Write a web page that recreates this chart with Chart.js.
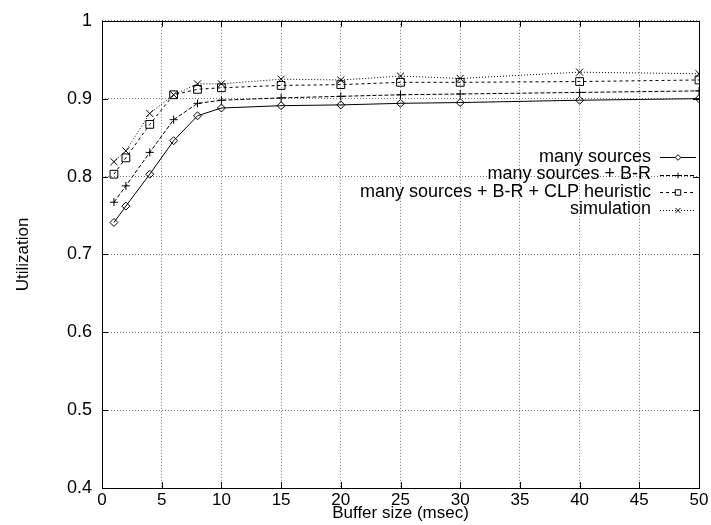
<!DOCTYPE html>
<html>
<head>
<meta charset="utf-8">
<script src="https://cdn.jsdelivr.net/npm/chart.js@4/dist/chart.umd.min.js"></script>
<style>
  body { margin: 0; background: #fff; }
  #wrap { width: 711px; height: 525px; }
</style>
</head>
<body>
<div id="wrap"><canvas id="myChart"></canvas></div>
<script>
// buffer size in msec
const bufferSizes = [1, 2, 4, 6, 8, 10, 15, 20, 25, 30, 40, 50];
const manySources = [0.741, 0.762, 0.803, 0.846, 0.878, 0.888, 0.891, 0.892, 0.894, 0.895, 0.898, 0.900];
const manySourcesBR = [0.767, 0.788, 0.831, 0.873, 0.894, 0.898, 0.901, 0.903, 0.905, 0.906, 0.908, 0.910];
const manySourcesBRCLP = [0.803, 0.824, 0.867, 0.905, 0.912, 0.914, 0.917, 0.918, 0.921, 0.921, 0.922, 0.924];
const simulation = [0.819, 0.833, 0.881, 0.905, 0.919, 0.919, 0.925, 0.924, 0.929, 0.926, 0.934, 0.932];
const seriesNames = ["many sources", "many sources + B-R", "many sources + B-R + CLP heuristic", "simulation"];
const xTicks = [0, 5, 10, 15, 20, 25, 30, 35, 40, 45, 50];
const yTicks = [0.4, 0.5, 0.6, 0.7, 0.8, 0.9, 1];

const FONT = "'Liberation Sans', Arial, Helvetica, sans-serif";

function pts(vals){
  return bufferSizes.map((b, i) => ({x: b, y: vals[i]}));
}

function ds(label, vals, dash, style, r){
  return {
    label: label,
    data: pts(vals),
    borderColor: "#000",
    borderWidth: 1,
    borderDash: dash,
    pointStyle: style,
    pointRadius: r,
    pointBorderColor: "#000",
    pointBorderWidth: 1,
    pointBackgroundColor: "rgba(0,0,0,0)",
    tension: 0,
    fill: false
  };
}

// gnuplot-ish box + inward tick marks
const boxPlugin = {
  id: "box",
  afterDraw(chart){
    const {ctx, chartArea: a, scales} = chart;
    ctx.save();
    ctx.strokeStyle = "#000";
    ctx.lineWidth = 1;
    ctx.setLineDash([]);
    ctx.beginPath();
    xTicks.forEach(t => {
      const px = Math.round(scales.x.getPixelForValue(t)) + 0.5;
      ctx.moveTo(px, a.bottom); ctx.lineTo(px, a.bottom - 6);
      ctx.moveTo(px, a.top); ctx.lineTo(px, a.top + 6);
    });
    yTicks.forEach(t => {
      const py = Math.round(scales.y.getPixelForValue(t)) + 0.5;
      ctx.moveTo(a.left, py); ctx.lineTo(a.left + 6, py);
      ctx.moveTo(a.right, py); ctx.lineTo(a.right - 6, py);
    });
    ctx.stroke();
    ctx.strokeRect(Math.round(a.left) + 0.5, Math.round(a.top) + 0.5, Math.round(a.right - a.left), Math.round(a.bottom - a.top));
    ctx.restore();
  }
};

// legend: text right aligned, sample to the right (like gnuplot key)
const keyPlugin = {
  id: "key",
  afterDatasetsDraw(chart){
    const ctx = chart.ctx;
    const textRight = 651;
    const lineL = 660, lineR = 696;
    const y0 = 157, step = 17.5;
    ctx.save();
    ctx.font = "18px " + FONT;
    ctx.textAlign = "right";
    ctx.textBaseline = "middle";
    chart.data.datasets.forEach((d, i) => {
      const y = y0 + i * step;
      ctx.fillStyle = "#000";
      ctx.fillText(d.label, textRight, y);
      ctx.strokeStyle = "#000";
      ctx.lineWidth = 1;
      ctx.setLineDash(d.borderDash);
      ctx.beginPath();
      ctx.moveTo(lineL, Math.round(y) + 0.5);
      ctx.lineTo(lineR, Math.round(y) + 0.5);
      ctx.stroke();
      ctx.setLineDash([]);
      ctx.fillStyle = "#fff";
      if (Chart.helpers && Chart.helpers.drawPoint) {
        Chart.helpers.drawPoint(ctx, {pointStyle: d.pointStyle, radius: d.pointRadius * 0.7, borderWidth: 1}, (lineL + lineR) / 2, Math.round(y) + 0.5);
      }
    });
    ctx.restore();
  }
};

function makechart(){
  new Chart(document.getElementById("myChart"), {
    type: "line",
    data: {
      datasets: [
        ds(seriesNames[0], manySources, [], "rectRot", 4),
        ds(seriesNames[1], manySourcesBR, [4, 2], "cross", 4),
        ds(seriesNames[2], manySourcesBRCLP, [3, 3], "rect", 5.5),
        ds(seriesNames[3], simulation, [1, 2], "crossRot", 5)
      ]
    },
    options: {
      responsive: true,
      maintainAspectRatio: false,
      animation: false,
      layout: { padding: { top: 17, right: 12, left: 0, bottom: 0 } },
      plugins: {
        legend: { display: false },
        tooltip: { enabled: false }
      },
      scales: {
        x: {
          type: "linear",
          min: 0, max: 50,
          afterFit(s){ s.height = 37; },
          afterBuildTicks(s){ s.ticks = xTicks.map(v => ({value: v})); },
          ticks: { color: "#000", font: { family: FONT, size: 17 }, padding: 2, maxRotation: 0 },
          grid: { color: "#777", lineWidth: 1, drawTicks: false },
          border: { display: false, dash: [1, 2] },
          title: { display: true, text: "Buffer size (msec)", color: "#000", font: { family: FONT, size: 17 }, padding: { top: 0, bottom: 1 } }
        },
        y: {
          min: 0.4, max: 1,
          afterFit(s){ s.width = 102; },
          afterBuildTicks(s){ s.ticks = yTicks.map(v => ({value: v})); },
          ticks: {
            color: "#000", font: { family: FONT, size: 18 }, padding: 10,
            callback: v => String(Math.round(v * 10) / 10)
          },
          grid: { color: "#777", lineWidth: 1, drawTicks: false },
          border: { display: false, dash: [1, 2] },
          title: { display: true, text: "Utilization", color: "#000", font: { family: FONT, size: 17 }, padding: { top: 13, bottom: 0 } }
        }
      }
    },
    plugins: [boxPlugin, keyPlugin]
  });
}

makechart();
</script>
</body>
</html>
